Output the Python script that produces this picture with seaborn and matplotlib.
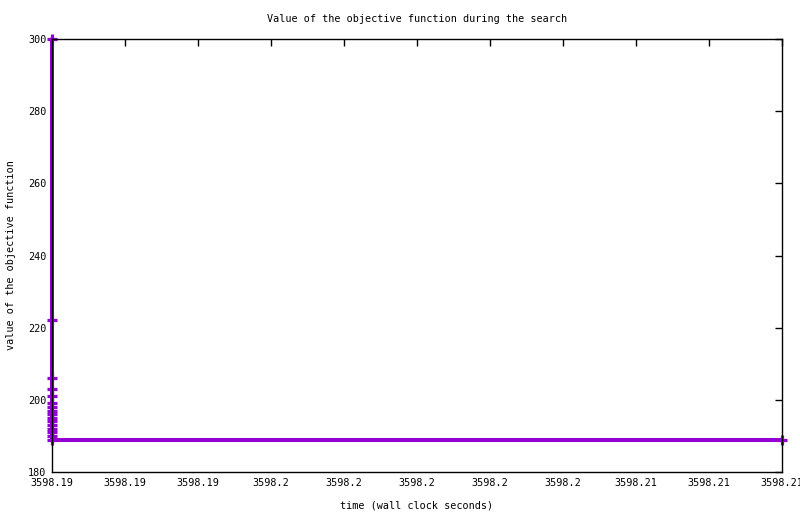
import matplotlib
matplotlib.use('Agg')
import matplotlib.pyplot as plt
import matplotlib.ticker as mticker
import numpy as np
import seaborn as sns

# search trace: wall clock time and objective value
values = [300, 222, 206, 203, 201, 199, 198, 197, 196, 195, 194, 193, 192, 191,
          190, 189, 189]
times = [3598.19001] * 16 + [3598.21]

xticks = [3598.19 + 0.002 * i for i in range(11)]
yticks = [180, 200, 220, 240, 260, 280, 300]

sns.set_style('white')
plt.rcParams['font.family'] = ['DejaVu Sans Mono', 'DejaVu Sans']
plt.rcParams['font.size'] = 7.3

fig = plt.figure(figsize=(8, 5.14), dpi=100)
ax = fig.add_axes([0.065, 0.0817, 0.9125, 0.8424])

sns.lineplot(x=times, y=values, estimator=None, sort=False, ax=ax,
             color='#9400d3', linewidth=2.9, drawstyle='steps-post',
             marker='+', markersize=7, markeredgewidth=2.3,
             markeredgecolor='#9400d3', clip_on=False, zorder=2)

ax.set_xlim(3598.19, 3598.21)
ax.set_ylim(180, 300)
ax.xaxis.set_major_locator(mticker.FixedLocator(xticks))
ax.xaxis.set_major_formatter(mticker.FuncFormatter(lambda v, p: '{:.6g}'.format(v)))
ax.set_yticks(yticks)
ax.tick_params(direction='in', length=5, width=1, top=True, right=True,
               labelsize=7.3, color='black', labelcolor='black', pad=4)
for s in ax.spines.values():
    s.set_color('black')
    s.set_linewidth(1)
    s.set_zorder(3)

ax.set_title('Value of the objective function during the search', fontsize=7.3,
             pad=12, color='black')
ax.set_xlabel('time (wall clock seconds)', fontsize=7.3, labelpad=9, color='black')
ax.set_ylabel('value of the objective function', fontsize=7.3, labelpad=9, color='black')

fig.savefig('out.png', dpi=100)
